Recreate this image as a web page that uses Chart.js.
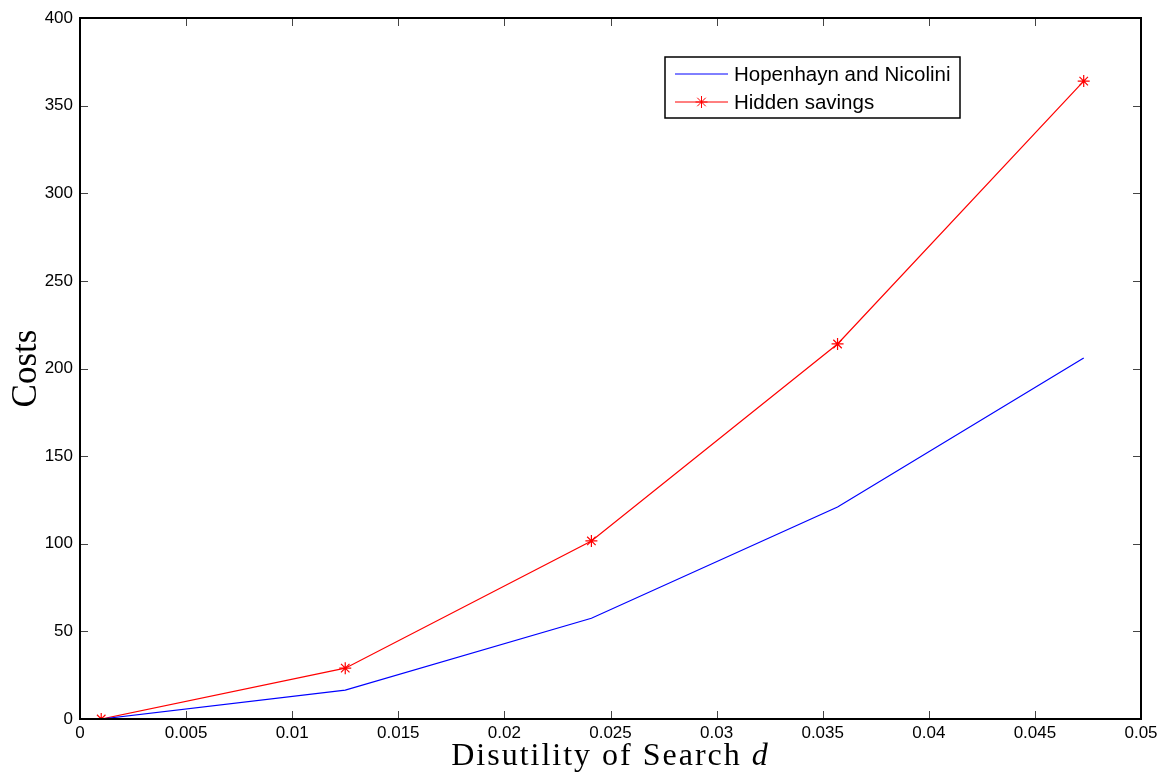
<!DOCTYPE html>
<html lang="en">
<head>
    <meta charset="UTF-8">
    <title>Costs</title>
    <script src="https://cdn.jsdelivr.net/npm/chart.js"></script>
    <style>
        body {
            margin: 0;
            background: white;
        }
        .chart-container {
            width: 1164px;
            height: 776px;
        }
    </style>
</head>
<body>
<div class="chart-container">
    <canvas id="costChart" width="1164" height="776"></canvas>
</div>

<script>
    const searchDisutility = [0.001, 0.0125, 0.0241, 0.0357, 0.0473];
    const hopenhaynCosts = [0, 16.5, 57.5, 121, 206];
    const hiddenSavingsCosts = [0, 29, 101.6, 214, 364];
    const seriesNames = ['Hopenhayn and Nicolini', 'Hidden savings'];

    const serif = '"Liberation Serif", "DejaVu Serif", serif';
    const sans = '"Liberation Sans", Arial, sans-serif';

    // box, inward ticks on all four sides, axis title with italic d, legend
    const matlabFrame = {
        id: 'matlabFrame',
        afterDraw(chart) {
            const ctx = chart.ctx;
            const area = chart.chartArea;
            const xs = chart.scales.x;
            const ys = chart.scales.y;
            const len = 8;
            ctx.save();
            ctx.strokeStyle = '#444';
            ctx.lineWidth = 1;
            xs.ticks.forEach(t => {
                const px = Math.round(xs.getPixelForValue(t.value)) + 0.5;
                ctx.beginPath();
                ctx.moveTo(px, area.bottom);
                ctx.lineTo(px, area.bottom - len);
                ctx.moveTo(px, area.top);
                ctx.lineTo(px, area.top + len);
                ctx.stroke();
            });
            ys.ticks.forEach(t => {
                const py = Math.round(ys.getPixelForValue(t.value)) + 0.5;
                ctx.beginPath();
                ctx.moveTo(area.left, py);
                ctx.lineTo(area.left + len, py);
                ctx.moveTo(area.right, py);
                ctx.lineTo(area.right - len, py);
                ctx.stroke();
            });
            ctx.strokeStyle = '#000';
            ctx.lineWidth = 2;
            ctx.strokeRect(area.left, area.top, area.right - area.left, area.bottom - area.top);

            // x axis title
            ctx.fillStyle = '#000';
            ctx.textBaseline = 'alphabetic';
            ctx.textAlign = 'left';
            ctx.letterSpacing = '2px';
            const plain = 'Disutility of Search ';
            ctx.font = '32px ' + serif;
            const w1 = ctx.measureText(plain).width;
            ctx.font = 'italic 32px ' + serif;
            const w2 = ctx.measureText('d').width;
            const cx = (area.left + area.right) / 2;
            const sx = cx - (w1 + w2) / 2;
            ctx.font = '32px ' + serif;
            ctx.fillText(plain, sx, 765);
            ctx.font = 'italic 32px ' + serif;
            ctx.fillText('d', sx + w1, 765);
            ctx.letterSpacing = '0px';

            // legend
            const lx = 665, ly = 57, lw = 295, lh = 61;
            ctx.fillStyle = '#fff';
            ctx.fillRect(lx, ly, lw, lh);
            ctx.strokeStyle = '#000';
            ctx.lineWidth = 1.5;
            ctx.strokeRect(lx, ly, lw, lh);
            ctx.font = '20.5px ' + sans;
            ctx.textBaseline = 'middle';
            chart.data.datasets.forEach((ds, i) => {
                const ry = ly + 17 + i * 28;
                ctx.strokeStyle = ds.borderColor;
                ctx.lineWidth = 1;
                ctx.beginPath();
                ctx.moveTo(675, ry);
                ctx.lineTo(728, ry);
                ctx.stroke();
                if (ds.pointRadius > 0) {
                    Chart.helpers.drawPoint(ctx, {
                        pointStyle: ds.pointStyle,
                        radius: ds.pointRadius,
                        borderWidth: ds.pointBorderWidth,
                        rotation: 0
                    }, 701.5, ry);
                }
                ctx.fillStyle = '#000';
                ctx.fillText(ds.label, 734, ry + 1);
            });
            ctx.restore();
        }
    };

    new Chart(document.getElementById('costChart').getContext('2d'), {
        type: 'scatter',
        data: {
            datasets: [{
                label: seriesNames[0],
                data: searchDisutility.map((d, i) => ({x: d, y: hopenhaynCosts[i]})),
                showLine: true,
                borderColor: '#0000ff',
                backgroundColor: '#0000ff',
                borderWidth: 1.2,
                pointRadius: 0
            }, {
                label: seriesNames[1],
                data: searchDisutility.map((d, i) => ({x: d, y: hiddenSavingsCosts[i]})),
                showLine: true,
                borderColor: '#ff0000',
                backgroundColor: '#ff0000',
                borderWidth: 1.2,
                pointStyle: 'star',
                pointRadius: 6,
                pointBorderWidth: 1.2
            }]
        },
        options: {
            responsive: false,
            animation: false,
            layout: {
                padding: {left: 0, top: 18, right: 23, bottom: 0}
            },
            plugins: {
                legend: {display: false},
                tooltip: {enabled: false}
            },
            scales: {
                x: {
                    type: 'linear',
                    min: 0,
                    max: 0.05,
                    grid: {display: false, drawTicks: false},
                    border: {display: false},
                    ticks: {
                        stepSize: 0.005,
                        padding: 4,
                        color: '#000',
                        font: {family: sans, size: 17},
                        maxRotation: 0,
                        callback: v => String(Math.round(v * 1000) / 1000)
                    },
                    afterFit: scale => { scale.height = 57; }
                },
                y: {
                    min: 0,
                    max: 400,
                    grid: {display: false, drawTicks: false},
                    border: {display: false},
                    ticks: {
                        stepSize: 50,
                        padding: 7,
                        color: '#000',
                        font: {family: sans, size: 17}
                    },
                    title: {
                        display: true,
                        text: 'Costs',
                        color: '#000',
                        font: {family: serif, size: 35},
                        padding: {top: 6, bottom: 0}
                    },
                    afterFit: scale => { scale.width = 80; }
                }
            }
        },
        plugins: [matlabFrame]
    });
</script>
</body>
</html>
